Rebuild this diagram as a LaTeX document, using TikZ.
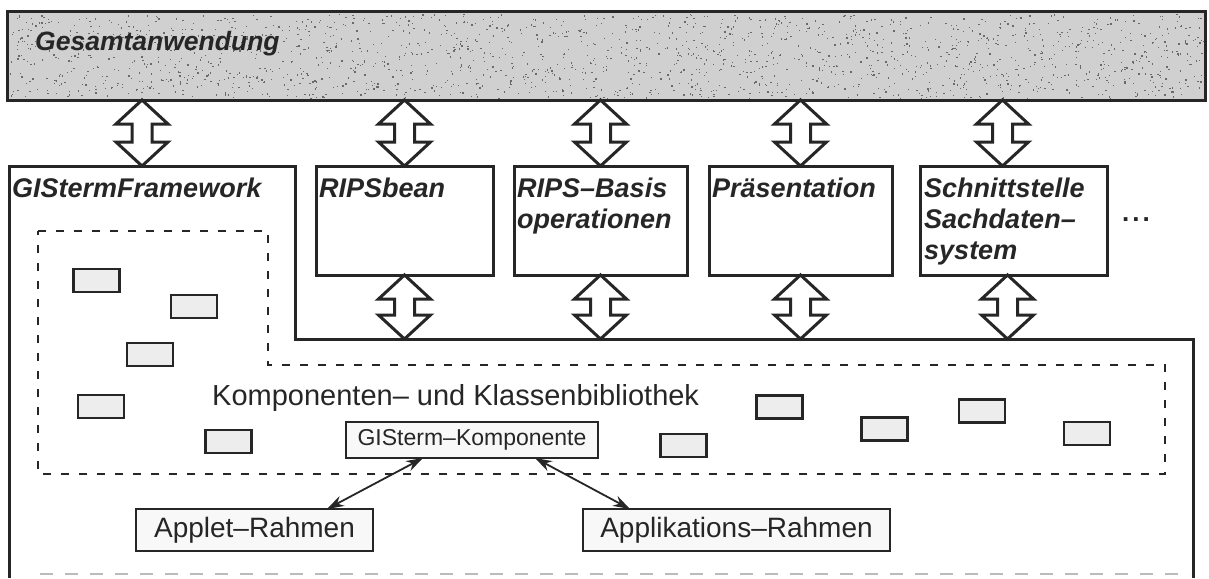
\documentclass[tikz,border=0pt]{standalone}
\usepackage{fontspec}
\setmainfont{Liberation Sans}
\usetikzlibrary{arrows.meta,calc}
\definecolor{ink}{HTML}{262626}
\definecolor{barfill}{HTML}{D0D0D0}
\definecolor{speck}{HTML}{6A6A6A}
\definecolor{compfill}{HTML}{EDEDED}
\definecolor{boxfill}{HTML}{F8F8F8}
\definecolor{faint}{HTML}{BBBBBB}
\tikzset{
  barbox/.style={draw=ink, line width=3pt, fill=barfill, inner sep=0pt, outer sep=0pt},
  bigbox/.style={draw=ink, line width=3pt, fill=white, inner sep=0pt, outer sep=0pt, minimum height=109pt},
  boxtitle/.style={anchor=north west, inner sep=0pt, align=left, font=\fontsize{27}{31}\selectfont\bfseries\itshape, text=ink},
  comp/.style={draw=ink, line width=2.5pt, fill=compfill, minimum width=46pt, minimum height=23pt, inner sep=0pt},
  rahmen/.style={draw=ink, line width=2.5pt, fill=boxfill, inner sep=0pt, outer sep=0pt, font=\fontsize{28}{32}\selectfont, text=ink},
  dblarr/.style={draw=ink, line width=3pt, fill=white, line join=miter},
  framebd/.style={draw=ink, line width=3pt},
  bottombd/.style={draw=faint, line width=2pt, dash pattern=on 13pt off 12pt},
  libbd/.style={draw=ink, line width=2.5pt, dash pattern=on 8pt off 10pt},
  thinarr/.style={draw=ink, line width=1.8pt, {Stealth[length=17pt,width=11pt]}-{Stealth[length=17pt,width=11pt]}},
}
\newcommand\dblarrow[2]{%
  \draw[dblarr] let \p1=(#1), \p2=(#2) in
    (\x1,\y1) -- (\x1+26pt,\y1-24pt) -- (\x1+10pt,\y1-24pt) -- (\x1+10pt,\y2+24pt)
    -- (\x1+26pt,\y2+24pt) -- (\x1,\y2) -- (\x1-26pt,\y2+24pt) -- (\x1-10pt,\y2+24pt)
    -- (\x1-10pt,\y1-24pt) -- (\x1-26pt,\y1-24pt) -- cycle;}
\begin{document}
\begin{tikzpicture}[x=1pt,y=-1pt]
\useasboundingbox (0,0) rectangle (1209,578);
% top bar
\node[barbox, minimum width=1198pt, minimum height=88pt] (bar) at (606,56) {};
\pgfmathsetseed{4711}
\foreach \i in {1,...,1800}
  \fill[speck] ({9+1194*rnd},{14+84*rnd}) rectangle ++(1.3,1.3);
\draw[ink, line width=3pt] (bar.north west) rectangle (bar.south east);
\node[anchor=base west, inner sep=0pt, font=\fontsize{26.5}{30}\selectfont\bfseries\itshape, text=ink] (gesamt) at (35,51) {Gesamtanwendung};

% framework outline
\coordinate (fwA) at (9,166);
\coordinate (fwB) at (295,166);
\coordinate (fwC) at (295,339);
\coordinate (fwD) at (1193,339);
\coordinate (fwE) at (1193,578);
\coordinate (fwF) at (9,578);
\coordinate (fwtop) at (142,166);
\coordinate (fwbl) at (40,574);
\coordinate (fwbr) at (1190,574);
\draw[framebd] (fwF) -- (fwA) -- (fwB) -- (fwC) -- (fwD) -- (fwE);
\draw[bottombd] (fwbl) -- (fwbr);
\node[boxtitle] (fwlabel) at (12,178) {GIStermFramework};

% component boxes
\node[bigbox, minimum width=177pt] (ripsbean) at (404.5,220.5) {};
\node[bigbox, minimum width=173pt] (basis) at (600.5,220.5) {};
\node[bigbox, minimum width=183pt] (praes) at (800.5,220.5) {};
\node[bigbox, minimum width=187pt] (schnitt) at (1013.5,220.5) {};
\coordinate (sup) at ([xshift=-11pt]schnitt.north);
\coordinate (sdn) at ([xshift=-6pt]schnitt.south);
\node[boxtitle] (t1) at ([shift={(3pt,-12pt)}]ripsbean.north west) {RIPSbean};
\node[boxtitle] (t2) at ([shift={(3pt,-12pt)}]basis.north west) {RIPS–Basis\\operationen};
\node[boxtitle] (t3) at ([shift={(3pt,-12pt)}]praes.north west) {Präsentation};
\node[boxtitle] (t4) at ([shift={(4pt,-12pt)}]schnitt.north west) {Schnittstelle\\Sachdaten–\\system};
\node[anchor=base west, inner sep=0pt, font=\fontsize{26}{30}\selectfont\bfseries, text=ink] (dots) at (1122,221) {.\hspace{3pt}.\hspace{3pt}.};

% upper double arrows
\dblarrow{bar.south -| fwtop}{fwtop}
\dblarrow{bar.south -| ripsbean.north}{ripsbean.north}
\dblarrow{bar.south -| basis.north}{basis.north}
\dblarrow{bar.south -| praes.north}{praes.north}
\dblarrow{bar.south -| sup}{sup}
% lower double arrows
\dblarrow{ripsbean.south}{ripsbean.south |- fwC}
\dblarrow{basis.south}{basis.south |- fwC}
\dblarrow{praes.south}{praes.south |- fwC}
\dblarrow{sdn}{sdn |- fwC}

% library region
\coordinate (lA) at (38,231);
\coordinate (lB) at (268,231);
\coordinate (lC) at (268,365);
\coordinate (lD) at (1165,365);
\coordinate (lE) at (1165,474);
\coordinate (lF) at (38,474);
\draw[libbd] (lA) -- (lB) -- (lC) -- (lD) -- (lE) -- (lF) -- cycle;
\foreach \n/\cx/\cy in {1/96.5/280.5, 2/194/306.5, 3/150/354.5, 4/101/406.5, 5/228.5/441.5,
  6/683.5/445.5, 7/779.5/407, 8/884.5/429, 9/982/411, 10/1087/433.5}
  \node[comp] (c\n) at (\cx,\cy) {};
\node[anchor=base west, inner sep=0pt, font=\fontsize{29}{33}\selectfont, text=ink] (lib) at (212,405) {Komponenten– und Klassenbibliothek};
\node[rahmen, font=\fontsize{23}{27}\selectfont, minimum width=252pt, minimum height=36pt] (gk) at (472,440) {GISterm–Komponente};

% frames
\node[rahmen, minimum width=237pt, minimum height=42pt] (applet) at (254.5,530) {Applet–Rahmen};
\node[rahmen, minimum width=307pt, minimum height=42pt] (applik) at (736.5,530) {Applikations–Rahmen};
\draw[thinarr] ([xshift=-49pt]gk.south) -- ([xshift=72.5pt]applet.north);
\draw[thinarr] ([xshift=63pt]gk.south) -- ([xshift=-106.5pt]applik.north);
\end{tikzpicture}
\end{document}
